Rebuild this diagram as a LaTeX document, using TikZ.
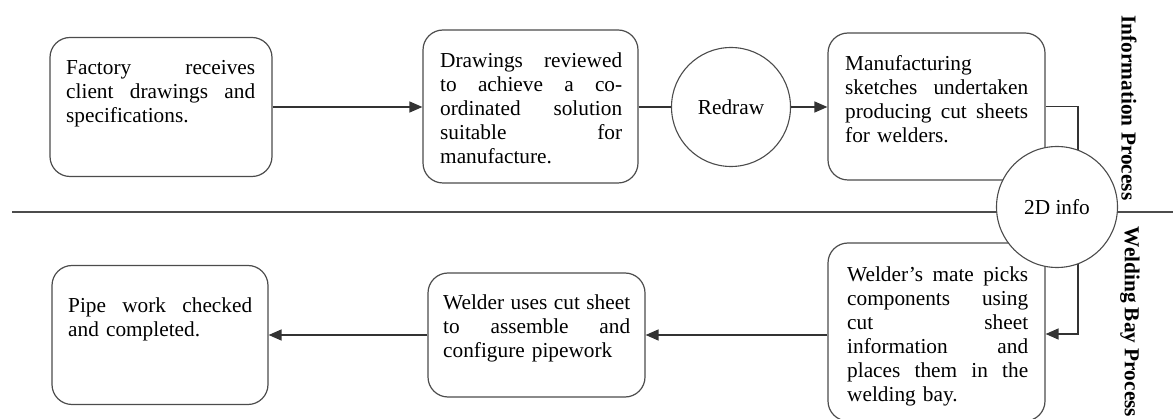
\documentclass[tikz,border=0pt]{standalone}
\usepackage{fontspec}
\setmainfont{Liberation Serif}
\usetikzlibrary{arrows.meta}
\pgfdeclarelayer{background}
\pgfsetlayers{background,main}
% one justified line of a box text (stretchable word spaces)
\newcommand{\jl}[1]{{\spaceskip=0pt\xspaceskip=0pt\makebox[\hsize][s]{#1}}}
\begin{document}
\begin{tikzpicture}[x=1pt,y=-1pt,
  box/.style={draw=black!70, line width=1.2pt, rounded corners=20pt, fill=white, inner sep=0pt},
  stage/.style={draw=black!70, line width=1.1pt, circle, fill=white, inner sep=0pt, minimum size=#1,
    font=\fontsize{21.3}{24}\selectfont},
  txt/.style={anchor=north west, inner sep=0pt, text width=#1, align=left,
    font=\fontsize{21.3}{24}\selectfont},
  lab/.style={rotate=-90, inner sep=0pt, font=\fontsize{21.3}{24}\selectfont\bfseries},
  conn/.style={draw=black!80, line width=1.3pt},
  arrow/.style={conn, -{Triangle[length=13pt,width=11pt]}}]
\useasboundingbox (0,0) rectangle (1173,419);

% process boxes
\node[box, minimum width=222pt, minimum height=139pt] (b1) at (161,107) {};
\node[box, minimum width=215pt, minimum height=153pt] (b2) at (530.5,106.5) {};
\node[box, minimum width=217pt, minimum height=147pt] (b3) at (936.5,106.5) {};
\node[box, minimum width=217pt, minimum height=178pt] (b4) at (936.5,332) {};
\node[box, minimum width=217pt, minimum height=124pt] (b5) at (536.5,335) {};
\node[box, minimum width=216pt, minimum height=139pt] (b6) at (160,335) {};

% box texts
\node[txt=189pt] (t1) at (66,57.2) {\strut\jl{Factory receives}\\
  \jl{client drawings and}\\ specifications.};
\node[txt=182pt] (t2) at (440,50.2) {\strut\jl{Drawings reviewed}\\
  \jl{to achieve a co-}\\ \jl{ordinated solution}\\ \jl{suitable for}\\ manufacture.};
\node[txt=183pt] (t3) at (845,53.2) {\strut Manufacturing\\
  \jl{sketches undertaken}\\ \jl{producing cut sheets}\\ for welders.};
\node[txt=181pt] (t4) at (847,264.2) {\strut\jl{Welder’s mate picks}\\
  \jl{components using}\\ \jl{cut sheet}\\ \jl{information and}\\
  \jl{places them in the}\\ welding bay.};
\node[txt=187pt] (t5) at (443,292.2) {\strut\jl{Welder uses cut sheet}\\
  \jl{to assemble and}\\ configure pipework};
\node[txt=184pt] (t6) at (68,295.2) {\strut\jl{Pipe work checked}\\ and completed.};

% circles
\node[stage=119pt] (red) at (731,107) {Redraw};
\node[stage=121pt] (info) at (1057,207) {2D info};

% lane labels
\node[lab] (l1) at (1129,108) {Information Process};
\node[lab] (l2) at (1130,322) {Welding Bay Process};

% lane divider and connectors (behind the circles)
\coordinate (dl) at (12,212);
\coordinate (dr) at (1173,212);
\coordinate (k1) at (1078,106.5);
\coordinate (k2) at (1078,334);
\begin{pgfonlayer}{background}
  \draw[draw=black!70, line width=1.5pt] (dl) -- (dr);
  \draw[arrow] (b3.east) -- (k1) -- (k2) -- (b4.east |- k2);
\end{pgfonlayer}
\draw[arrow] (b1.east) -- (b1.east -| b2.west);
\draw[conn] (b2.east |- red) -- (red);
\draw[arrow] (red) -- (red -| b3.west);
\draw[arrow] (b4.west |- b5.east) -- (b5.east);
\draw[arrow] (b5.west) -- (b5.west -| b6.east);
\end{tikzpicture}
\end{document}
